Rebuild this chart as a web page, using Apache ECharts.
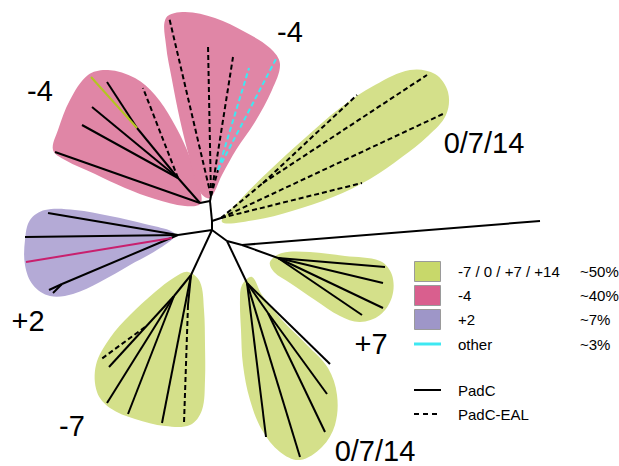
<!DOCTYPE html>
<html>
<head>
<meta charset="utf-8">
<script src="https://cdn.jsdelivr.net/npm/echarts@6/dist/echarts.min.js"></script>
<style>
  html, body { margin: 0; padding: 0; background: #ffffff; }
  #chart { width: 619px; height: 466px; }
</style>
</head>
<body>
<div id="chart"></div>
<script>
// ---- Tree branches, [x1, y1, x2, y2] in layout units, grouped by stroke style ----
const solidEdges = [
  // backbone
  [212, 230, 212, 221], [212, 221, 210, 201], [210, 201, 200, 203], [210, 201, 211, 196],
  [212, 221, 221, 218], [212, 230, 227, 241], [227, 241, 242, 245], [227, 241, 247, 283],
  [212, 230, 178, 235], [212, 230, 191, 275],
  // -4 (left)
  [200, 203, 55, 152], [200, 203, 178, 178], [178, 178, 82, 125], [178, 178, 92, 107],
  [178, 178, 137, 128], [137, 128, 107, 82],
  // long branch and +7
  [242, 245, 540, 221], [242, 245, 278, 258], [278, 258, 385, 267], [278, 258, 383, 283],
  [278, 258, 383, 308], [278, 258, 362, 315],
  // 0/7/14 (lower)
  [247, 283, 330, 364], [247, 283, 268, 313], [268, 313, 327, 394], [268, 313, 325, 432],
  [247, 283, 300, 457], [247, 283, 266, 437],
  // +2
  [178, 235, 48, 213], [178, 235, 25, 237], [178, 235, 62, 284], [62, 284, 49, 290], [62, 284, 53, 293],
  // -7
  [191, 275, 174, 296], [174, 296, 109, 367], [174, 296, 107, 403], [174, 296, 128, 414],
  [191, 275, 162, 423], [191, 275, 188, 305]
];
const dashedEdges = [
  [178, 178, 143, 88],
  [211, 196, 169, 17], [211, 196, 208, 45], [211, 196, 233, 57], [211, 196, 218, 170],
  [221, 218, 263, 183], [263, 183, 357, 95], [263, 183, 427, 75], [221, 218, 445, 113], [221, 218, 362, 183],
  [145, 327, 100, 360], [188, 305, 184, 423]
];
const cyanEdges = [[218, 170, 249, 68], [218, 170, 277, 57]];
const limeEdges = [[137, 128, 91, 77]];
const magentaEdges = [[172, 238, 26, 262]];

// ---- Clade outlines ----
const blobPinkLeft = [[88, 75], [108, 70], [135, 78], [155, 95], [172, 120], [187, 150], [197, 180], [201, 203], [185, 206], [155, 199], [125, 188], [95, 174], [65, 160], [53, 150], [58, 130], [70, 100]];
const blobPinkTop = [[166, 18], [185, 12], [215, 18], [245, 32], [270, 48], [280, 64], [272, 90], [255, 122], [236, 150], [222, 175], [210, 198], [200, 192], [190, 160], [180, 120], [172, 80], [166, 45]];
const blobGreenTop = [[222, 222], [240, 200], [270, 170], [305, 138], [340, 108], [375, 85], [410, 70], [435, 74], [448, 92], [446, 115], [428, 136], [402, 157], [370, 179], [333, 197], [292, 211], [255, 220]];
const blobPurple = [[25, 240], [30, 220], [45, 210], [75, 210], [110, 216], [145, 224], [175, 234], [160, 248], [130, 265], [100, 282], [73, 294], [50, 296], [33, 285], [25, 265]];
const blobGreenMinus7 = [[188, 272], [200, 282], [204, 310], [205, 345], [205, 380], [202, 410], [190, 425], [165, 426], [135, 419], [110, 408], [97, 392], [96, 365], [110, 338], [130, 315], [155, 292], [175, 277]];
const blobGreenPlus7 = [[270, 262], [282, 253], [310, 252], [345, 256], [380, 261], [392, 275], [392, 297], [380, 315], [360, 322], [340, 316], [315, 300], [290, 283], [274, 272]];
const blobGreenLower = [[242, 285], [252, 277], [262, 295], [282, 320], [307, 345], [328, 368], [337, 395], [335, 425], [322, 447], [300, 460], [280, 452], [262, 430], [250, 400], [243, 365], [241, 330], [240, 300]];

// ---- Clade names and their anchor points ----
const cladeNames = ['-4', '-4', '0/7/14', '+2', '-7', '+7', '0/7/14'];
const cladeAnchors = [[40, 91], [290, 32], [484, 143], [28, 321], [72, 426], [371, 344], [375, 451]];

// ---- Legend content ----
const legendGroups = ['-7 / 0 / +7 / +14', '-4', '+2', 'other'];
const legendShares = ['~50%', '~40%', '~7%', '~3%'];
const legendStyles = ['PadC', 'PadC-EAL'];

const BLOB = { green: '#d4e08a', pink: '#e086a6', purple: '#b4aad6' };
const SWATCH = ['#c8d86a', '#d95f8e', '#9e96c8'];
const CYAN = '#3ee8f2';

const chart = echarts.init(document.getElementById('chart'), null, { renderer: 'svg' });

function blobSeries(points, color) {
  return {
    type: 'custom',
    coordinateSystem: 'cartesian2d',
    silent: true,
    z: 1,
    data: [0],
    renderItem: function (params, api) {
      const pts = points.map(function (p) { return api.coord(p); });
      return {
        type: 'polygon',
        shape: { points: pts, smooth: 0.35 },
        style: { fill: color, stroke: null }
      };
    }
  };
}

function edgeSeries(edges, color, dash, width) {
  return {
    type: 'custom',
    coordinateSystem: 'cartesian2d',
    silent: true,
    z: 3,
    data: edges,
    renderItem: function (params, api) {
      const a = api.coord([api.value(0), api.value(1)]);
      const b = api.coord([api.value(2), api.value(3)]);
      return {
        type: 'line',
        shape: { x1: a[0], y1: a[1], x2: b[0], y2: b[1] },
        style: { stroke: color, lineWidth: width, lineDash: dash, lineCap: 'butt' }
      };
    }
  };
}

const labelSeries = {
  type: 'scatter',
  silent: true,
  symbolSize: 0,
  z: 4,
  itemStyle: { opacity: 1 },
  data: cladeNames.map(function (n, i) { return { name: n, value: cladeAnchors[i] }; }),
  label: {
    show: true,
    position: 'inside',
    formatter: '{b}',
    color: '#000',
    fontFamily: 'Liberation Sans, Arial, sans-serif',
    fontSize: 29
  }
};

// Legend drawn as graphic elements
const FONT = '15px "Liberation Sans", Arial, sans-serif';
const legendGraphics = [];
const rowY = [271, 295, 319, 344];
legendGroups.forEach(function (g, i) {
  if (i < 3) {
    legendGraphics.push({
      type: 'rect', left: 414, top: rowY[i] - 10,
      shape: { width: 26, height: 20 },
      style: { fill: SWATCH[i], stroke: '#9a9a9a', lineWidth: 1 }
    });
  } else {
    legendGraphics.push({
      type: 'line',
      shape: { x1: 414, y1: rowY[i], x2: 441, y2: rowY[i] },
      style: { stroke: CYAN, lineWidth: 3 }
    });
  }
  legendGraphics.push({
    type: 'text', x: 458, y: rowY[i],
    style: { text: g, font: FONT, fill: '#000', verticalAlign: 'middle' }
  });
  legendGraphics.push({
    type: 'text', x: 580, y: rowY[i],
    style: { text: legendShares[i], font: FONT, fill: '#000', verticalAlign: 'middle' }
  });
});
const styleY = [390, 414];
legendStyles.forEach(function (s, i) {
  legendGraphics.push({
    type: 'line',
    shape: { x1: 414, y1: styleY[i], x2: 441, y2: styleY[i] },
    style: { stroke: '#000', lineWidth: 2, lineDash: i === 1 ? [5, 4] : null }
  });
  legendGraphics.push({
    type: 'text', x: 458, y: styleY[i],
    style: { text: s, font: FONT, fill: '#000', verticalAlign: 'middle' }
  });
});

chart.setOption({
  animation: false,
  backgroundColor: '#ffffff',
  grid: { left: 0, right: 0, top: 0, bottom: 0 },
  xAxis: { type: 'value', min: 0, max: 619, show: false },
  yAxis: { type: 'value', min: 0, max: 466, inverse: true, show: false },
  graphic: legendGraphics,
  series: [
    blobSeries(blobPinkLeft, BLOB.pink),
    blobSeries(blobPinkTop, BLOB.pink),
    blobSeries(blobGreenTop, BLOB.green),
    blobSeries(blobPurple, BLOB.purple),
    blobSeries(blobGreenMinus7, BLOB.green),
    blobSeries(blobGreenPlus7, BLOB.green),
    blobSeries(blobGreenLower, BLOB.green),
    edgeSeries(solidEdges, '#000000', null, 2),
    edgeSeries(dashedEdges, '#000000', [5, 3], 2),
    edgeSeries(cyanEdges, CYAN, [5, 3], 2),
    edgeSeries(limeEdges, '#b3c620', null, 2),
    edgeSeries(magentaEdges, '#c8206e', null, 2),
    labelSeries
  ]
});
</script>
</body>
</html>
